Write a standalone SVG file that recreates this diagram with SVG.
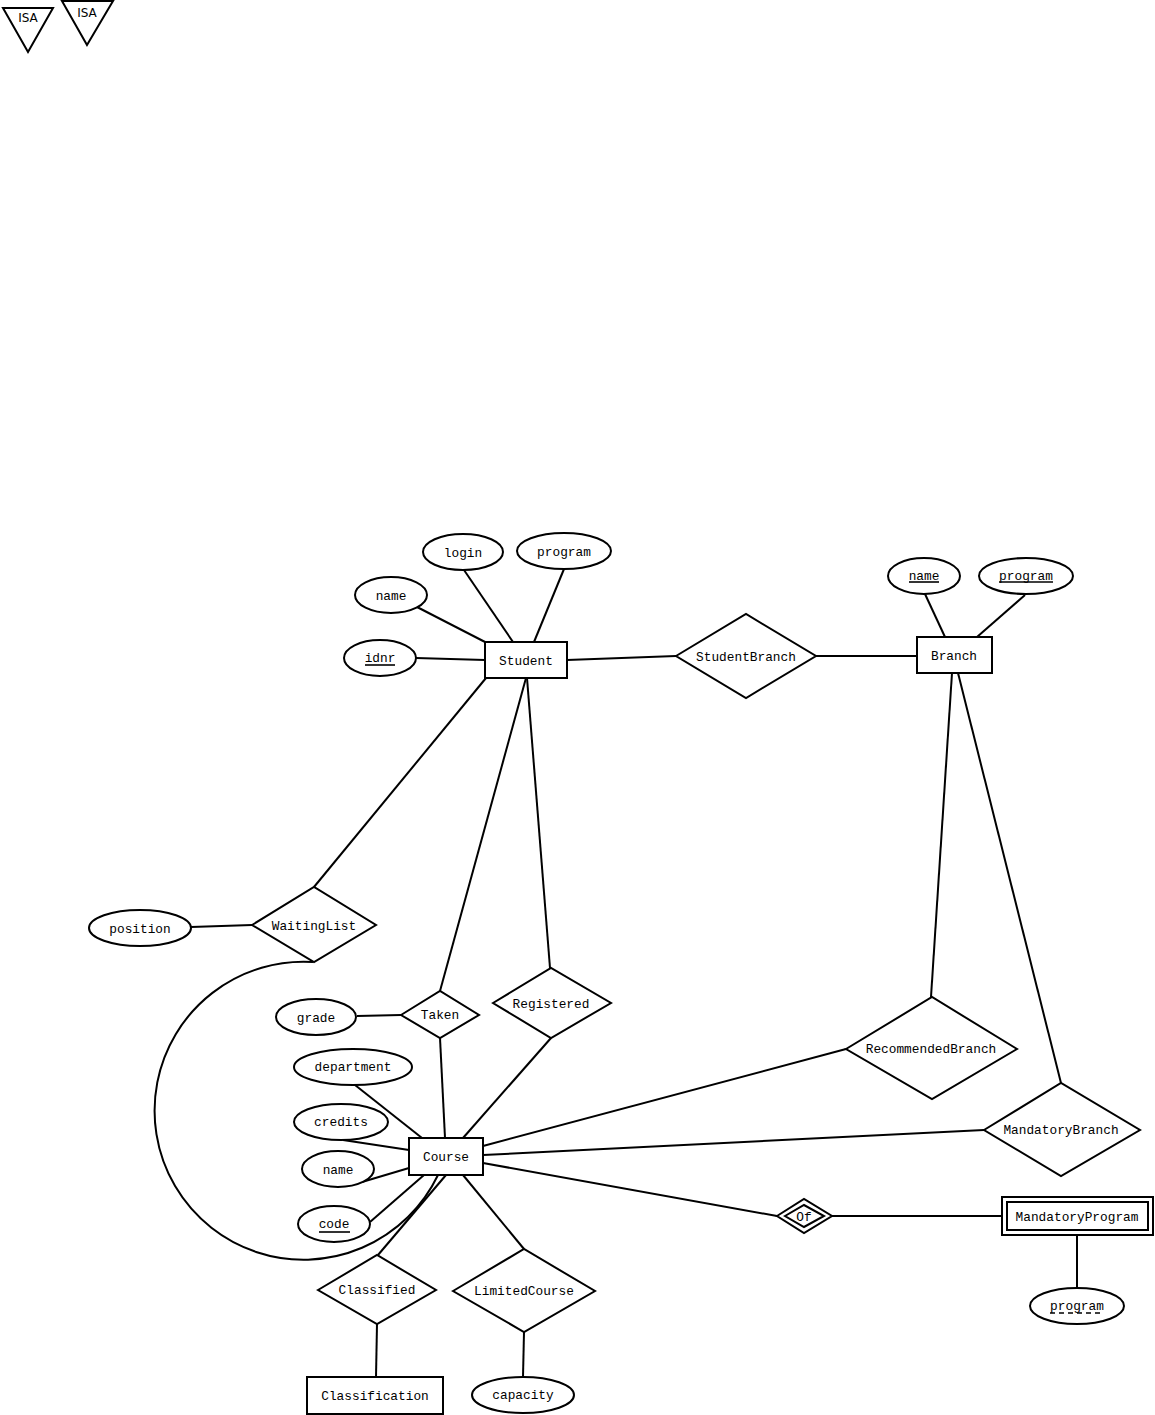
<svg xmlns="http://www.w3.org/2000/svg" width="1155" height="1415" viewBox="0 0 1155 1415">
<style>
.s{fill:#fff;stroke:#000;stroke-width:2}
.n{fill:none;stroke:#000;stroke-width:2}
.t{font-family:"Liberation Mono",monospace;font-size:12.8px;text-anchor:middle;dominant-baseline:central;fill:#000}
.isa{font-family:"DejaVu Sans",sans-serif;font-size:12px;text-anchor:middle;dominant-baseline:central;fill:#000}
.u{stroke:#000;stroke-width:1.6}
.ud{stroke:#000;stroke-width:1.6;stroke-dasharray:5,4}
</style>
<rect width="1155" height="1415" fill="#fff"/>
<g id="connectors" class="n">
<line x1="417" y1="607" x2="487" y2="643"/>
<line x1="464" y1="570" x2="513" y2="642"/>
<line x1="564" y1="569" x2="534" y2="642"/>
<line x1="416" y1="658" x2="485" y2="660"/>
<line x1="567" y1="660" x2="676" y2="656"/>
<line x1="816" y1="656" x2="917" y2="656"/>
<line x1="925" y1="594" x2="945" y2="637"/>
<line x1="1025" y1="595" x2="977" y2="637"/>
<line x1="952" y1="673" x2="931" y2="997"/>
<line x1="958" y1="673" x2="1061" y2="1083"/>
<line x1="486" y1="678" x2="314" y2="887"/>
<line x1="526" y1="678" x2="440" y2="991"/>
<line x1="527" y1="678" x2="550" y2="968"/>
<line x1="191" y1="927" x2="252" y2="925"/>
<line x1="357" y1="1016" x2="401" y2="1015"/>
<line x1="440" y1="1038" x2="445" y2="1138"/>
<line x1="551" y1="1038" x2="463" y2="1138"/>
<line x1="355" y1="1085" x2="422" y2="1138"/>
<line x1="343" y1="1140" x2="409" y2="1150"/>
<line x1="362" y1="1182" x2="409" y2="1168"/>
<line x1="370" y1="1222" x2="424" y2="1175"/>
<line x1="483" y1="1146" x2="846" y2="1049"/>
<line x1="483" y1="1155" x2="984" y2="1130"/>
<line x1="483" y1="1163" x2="777" y2="1216"/>
<line x1="463" y1="1175" x2="524" y2="1249"/>
<line x1="446" y1="1175" x2="378" y2="1255"/>
<line x1="377" y1="1324" x2="376" y2="1377"/>
<line x1="524" y1="1332" x2="523" y2="1377"/>
<line x1="832" y1="1216" x2="1002" y2="1216"/>
<line x1="1077" y1="1235" x2="1077" y2="1288"/>
<path d="M313,962 A149,149 0 1 0 438,1175"/>
</g>
<g id="isa1"><polygon class="s" points="3,8 53,8 28,52"/><text class="isa" x="28" y="18">ISA</text></g>
<g id="isa2"><polygon class="s" points="62,1 113,1 87,45"/><text class="isa" x="87" y="13">ISA</text></g>
<g id="Student"><rect class="s" x="485" y="642" width="82" height="36"/><text class="t" x="526" y="661">Student</text></g>
<g id="student-login"><ellipse class="s" cx="463" cy="552" rx="40" ry="18"/><text class="t" x="463" y="553">login</text></g>
<g id="student-program"><ellipse class="s" cx="564" cy="551" rx="47" ry="18"/><text class="t" x="564" y="552">program</text></g>
<g id="student-name"><ellipse class="s" cx="391" cy="595" rx="36" ry="18"/><text class="t" x="391" y="596">name</text></g>
<g id="student-idnr"><ellipse class="s" cx="380" cy="658" rx="36" ry="18"/><text class="t" x="380" y="658">idnr</text><line class="u" x1="365" y1="665" x2="395" y2="665"/></g>
<g id="StudentBranch"><polygon class="s" points="676,656 746,614 816,656 746,698"/><text class="t" x="746" y="657">StudentBranch</text></g>
<g id="Branch"><rect class="s" x="917" y="637" width="75" height="36"/><text class="t" x="954" y="656">Branch</text></g>
<g id="branch-name"><ellipse class="s" cx="924" cy="576" rx="36" ry="18"/><text class="t" x="924" y="576">name</text><line class="u" x1="909" y1="582" x2="939" y2="582"/></g>
<g id="branch-program"><ellipse class="s" cx="1026" cy="576" rx="47" ry="18"/><text class="t" x="1026" y="576">program</text><line class="u" x1="999" y1="582" x2="1053" y2="582"/></g>
<g id="WaitingList"><polygon class="s" points="252,925 314,887 376,925 314,962"/><text class="t" x="314" y="926">WaitingList</text></g>
<g id="position"><ellipse class="s" cx="140" cy="928" rx="51" ry="18"/><text class="t" x="140" y="929">position</text></g>
<g id="Taken"><polygon class="s" points="401,1015 440,991 479,1015 440,1038"/><text class="t" x="440" y="1015">Taken</text></g>
<g id="grade"><ellipse class="s" cx="316" cy="1017" rx="40" ry="18"/><text class="t" x="316" y="1018">grade</text></g>
<g id="Registered"><polygon class="s" points="493,1003 551,968 611,1003 551,1038"/><text class="t" x="551" y="1004">Registered</text></g>
<g id="RecommendedBranch"><polygon class="s" points="846,1049 932,997 1017,1049 932,1099"/><text class="t" x="931" y="1049">RecommendedBranch</text></g>
<g id="MandatoryBranch"><polygon class="s" points="984,1130 1061,1083 1140,1130 1061,1176"/><text class="t" x="1061" y="1130">MandatoryBranch</text></g>
<g id="Course"><rect class="s" x="409" y="1138" width="74" height="37"/><text class="t" x="446" y="1157">Course</text></g>
<g id="course-department"><ellipse class="s" cx="353" cy="1067" rx="59" ry="18"/><text class="t" x="353" y="1067">department</text></g>
<g id="course-credits"><ellipse class="s" cx="341" cy="1122" rx="47" ry="18"/><text class="t" x="341" y="1122">credits</text></g>
<g id="course-name"><ellipse class="s" cx="338" cy="1169" rx="36" ry="18"/><text class="t" x="338" y="1170">name</text></g>
<g id="course-code"><ellipse class="s" cx="334" cy="1224" rx="36" ry="18"/><text class="t" x="334" y="1224">code</text><line class="u" x1="319" y1="1232" x2="350" y2="1232"/></g>
<g id="Classified"><polygon class="s" points="318,1290 377,1255 436,1290 377,1324"/><text class="t" x="377" y="1290">Classified</text></g>
<g id="LimitedCourse"><polygon class="s" points="453,1291 524,1249 595,1291 524,1332"/><text class="t" x="524" y="1291">LimitedCourse</text></g>
<g id="Classification"><rect class="s" x="307" y="1377" width="136" height="37"/><text class="t" x="375" y="1396">Classification</text></g>
<g id="capacity"><ellipse class="s" cx="523" cy="1395" rx="51" ry="18"/><text class="t" x="523" y="1395">capacity</text></g>
<g id="Of"><polygon class="s" points="777,1216 804,1199 832,1216 804,1233"/><polygon class="s" points="785,1216 804,1205 824,1216 804,1227"/><text class="t" x="804" y="1217">Of</text></g>
<g id="MandatoryProgram"><rect class="s" x="1002" y="1197" width="151" height="38"/><rect class="s" x="1007" y="1202" width="141" height="28"/><text class="t" x="1077" y="1217">MandatoryProgram</text></g>
<g id="mp-program"><ellipse class="s" cx="1077" cy="1306" rx="47" ry="18"/><text class="t" x="1077" y="1306">program</text><line class="ud" x1="1050" y1="1313" x2="1104" y2="1313"/></g>
</svg>
